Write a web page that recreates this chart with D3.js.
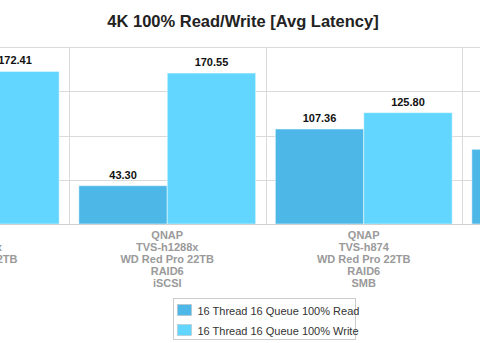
<!DOCTYPE html>
<html>
<head>
<meta charset="utf-8">
<script src="https://cdn.jsdelivr.net/npm/d3@7"></script>
<style>
  body { margin: 0; background: #fff; }
  svg { display: block; font-family: "Liberation Sans", Arial, sans-serif; }
</style>
</head>
<body>
<div id="chart-area"></div>
<script>
// data
const categories = [
  ['QNAP', 'TVS-h1288x', 'WD Red Pro 22TB', 'RAID6', 'SMB'],
  ['QNAP', 'TVS-h1288x', 'WD Red Pro 22TB', 'RAID6', 'iSCSI'],
  ['QNAP', 'TVS-h874', 'WD Red Pro 22TB', 'RAID6', 'SMB'],
  ['QNAP', 'TVS-h874', 'WD Red Pro 22TB', 'RAID6', 'iSCSI']
];
const seriesNames = ['16 Thread 16 Queue 100% Read', '16 Thread 16 Queue 100% Write'];
const readValues = [105.00, 43.30, 107.36, 84.40];
const writeValues = [172.41, 170.55, 125.80, 150.00];
const yTicks = [0, 50, 100, 150, 200];
const colors = ['#4db8e8', '#62d6fe'];

const WIDTH = 480, HEIGHT = 343;
const PLOT = { TOP: 47, BOTTOM: 224 };
const BAND = 196.5;
const FIRST_EDGE = 69 - BAND;

const svg = d3.select('#chart-area')
  .append('svg')
  .attr('width', WIDTH)
  .attr('height', HEIGHT);

const x = d3.scaleBand()
  .domain(d3.range(categories.length))
  .range([FIRST_EDGE, FIRST_EDGE + BAND * categories.length])
  .padding(0);

const xSub = d3.scaleBand()
  .domain(d3.range(seriesNames.length))
  .range([x.bandwidth() * 0.05, x.bandwidth() * 0.95])
  .padding(0);

const y = d3.scaleLinear()
  .domain([0, 200])
  .range([PLOT.BOTTOM, PLOT.TOP]);

// title
svg.append('text')
  .attr('x', WIDTH / 2 + 3)
  .attr('y', 27)
  .attr('text-anchor', 'middle')
  .attr('font-size', '16.5px')
  .attr('font-weight', 'bold')
  .attr('fill', '#222')
  .text('4K 100% Read/Write [Avg Latency]');

// horizontal grid
svg.append('g')
  .selectAll('line')
  .data(yTicks.filter(d => d > 0))
  .enter().append('line')
  .attr('x1', 0).attr('x2', WIDTH)
  .attr('y1', d => Math.round(y(d)) + 0.5)
  .attr('y2', d => Math.round(y(d)) + 0.5)
  .attr('stroke', '#dadada');

// vertical grid at category edges
const edges = d3.range(categories.length + 1).map(i => FIRST_EDGE + i * BAND);
svg.append('g')
  .selectAll('line')
  .data(edges)
  .enter().append('line')
  .attr('x1', d => Math.round(d) + 0.5)
  .attr('x2', d => Math.round(d) + 0.5)
  .attr('y1', PLOT.TOP)
  .attr('y2', PLOT.BOTTOM)
  .attr('stroke', '#dadada');

// bars
const rows = [];
categories.forEach((c, i) => {
  rows.push({ cat: i, s: 0, v: readValues[i] });
  rows.push({ cat: i, s: 1, v: writeValues[i] });
});

const g = svg.append('g');
g.selectAll('rect')
  .data(rows)
  .enter().append('rect')
  .attr('x', d => x(d.cat) + xSub(d.s))
  .attr('y', d => y(d.v))
  .attr('width', xSub.bandwidth())
  .attr('height', d => PLOT.BOTTOM - y(d.v))
  .attr('fill', d => colors[d.s])
  .attr('stroke', '#ffffff')
  .attr('stroke-opacity', 0.5)
  .attr('stroke-width', 1);

// value labels
g.selectAll('text')
  .data(rows)
  .enter().append('text')
  .attr('x', d => x(d.cat) + xSub(d.s) + xSub.bandwidth() / 2)
  .attr('y', d => y(d.v) - 7)
  .attr('text-anchor', 'middle')
  .attr('font-size', '11px')
  .attr('font-weight', 'bold')
  .attr('fill', '#111')
  .text(d => d.v.toFixed(2));

// baseline
svg.append('line')
  .attr('x1', 0).attr('x2', WIDTH)
  .attr('y1', PLOT.BOTTOM + 0.5).attr('y2', PLOT.BOTTOM + 0.5)
  .attr('stroke', '#d0d0d0');

// category labels
const labels = svg.append('g');
categories.forEach((lines, i) => {
  const t = labels.append('text')
    .attr('x', x(i) + x.bandwidth() / 2)
    .attr('y', 239)
    .attr('text-anchor', 'middle')
    .attr('font-size', '11px')
    .attr('font-weight', 'bold')
    .attr('fill', '#9a9a9a');
  lines.forEach((l, j) => {
    t.append('tspan')
      .attr('x', x(i) + x.bandwidth() / 2)
      .attr('dy', j === 0 ? 0 : 12)
      .text(l);
  });
});

// legend
const legend = svg.append('g').attr('transform', 'translate(173.5,298.5)');
legend.append('rect')
  .attr('width', 182)
  .attr('height', 41)
  .attr('fill', '#fff')
  .attr('stroke', '#cccccc');

seriesNames.forEach((name, i) => {
  const item = legend.append('g').attr('transform', `translate(4,${6 + i * 20})`);
  item.append('rect')
    .attr('width', 14)
    .attr('height', 11)
    .attr('fill', colors[i])
    .attr('stroke', '#bbb')
    .attr('stroke-width', 0.5);
  item.append('text')
    .attr('x', 20)
    .attr('y', 10)
    .attr('font-size', '11px')
    .attr('fill', '#333')
    .text(name);
});
</script>
</body>
</html>
